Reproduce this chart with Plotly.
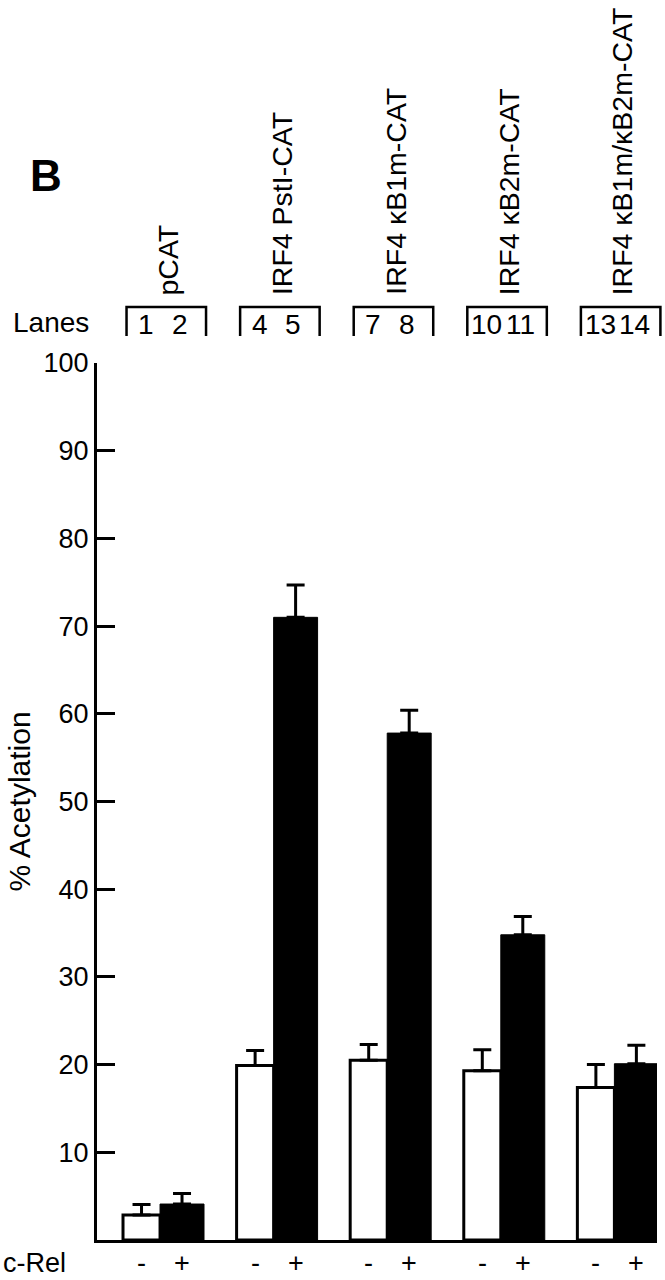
import plotly.graph_objects as go

# ---- data ----
groups = ["pCAT", "IRF4 PstI-CAT", "IRF4 κB1m-CAT", "IRF4 κB2m-CAT", "IRF4 κB1m/κB2m-CAT"]
lanes_minus = ["1", "4", "7", "10", "13"]
lanes_plus = ["2", "5", "8", "11", "14"]
minus_vals = [2.85, 19.9, 20.5, 19.3, 17.4]
minus_err = [1.2, 1.7, 1.8, 2.4, 2.6]
plus_vals = [4.1, 71.0, 57.8, 34.8, 20.1]
plus_err = [1.2, 3.7, 2.6, 2.1, 2.1]
y_ticks = [10, 20, 30, 40, 50, 60, 70, 80, 90, 100]

FONT = "Liberation Sans, Arial, Helvetica, sans-serif"
FS = 27

W, H = 665, 1280
ML, MR, MT, MB = 97, 8, 363, 40
PW = W - ML - MR
PH = H - MT - MB

xpos = list(range(len(groups)))
XMIN, XMAX = -0.555, 4.375
WW, BW = 0.326, 0.387  # white / black bar widths (x units)

def px_x(xd):
    return (xd - XMIN) / (XMAX - XMIN)

def py(pix):
    # pixel y from top -> paper coordinate
    return (H - MB - pix) / PH

fig = go.Figure()
fig.add_trace(go.Bar(
    x=xpos, y=minus_vals, width=[WW] * 5, offset=[-WW] * 5,
    marker=dict(color="white", line=dict(color="black", width=3)),
    error_y=dict(type="data", array=minus_err, arrayminus=[0] * 5, symmetric=False,
                 color="black", thickness=3, width=9),
    showlegend=False, hoverinfo="skip"))
fig.add_trace(go.Bar(
    x=xpos, y=plus_vals, width=[BW] * 5, offset=[0] * 5,
    marker=dict(color="black", line=dict(color="black", width=1)),
    error_y=dict(type="data", array=plus_err, arrayminus=[0] * 5, symmetric=False,
                 color="black", thickness=3, width=9),
    showlegend=False, hoverinfo="skip"))

fig.update_layout(
    width=W, height=H, margin=dict(l=ML, r=MR, t=MT, b=MB, pad=0, autoexpand=False),
    paper_bgcolor="white", plot_bgcolor="white", barmode="overlay",
    font=dict(family=FONT, size=FS, color="black"),
    xaxis=dict(range=[XMIN, XMAX], showline=True, linewidth=3, linecolor="black",
               showgrid=False, zeroline=False, showticklabels=False,
               ticks="", automargin=False),
    yaxis=dict(range=[0, 100], showline=True, linewidth=3, linecolor="black",
               showgrid=False, zeroline=False, tickvals=y_ticks, ticks="inside",
               ticklen=18, tickwidth=3, tickcolor="black", tickfont=dict(size=FS),
               ticklabelstandoff=0, automargin=False),
)

ann = []
# y title
ann.append(dict(text="% Acetylation", x=-(ML - 19) / PW, y=0.5, xref="paper", yref="paper",
                textangle=-90, showarrow=False, xanchor="center", yanchor="middle",
                font=dict(size=30)))
# panel letter
ann.append(dict(text="<b>B</b>", x=-(ML - 46) / PW, y=py(175), xref="paper", yref="paper",
                showarrow=False, xanchor="center", yanchor="middle", font=dict(size=44)))
# Lanes
ann.append(dict(text="Lanes", x=-(ML - 11) / PW, y=py(322), xref="paper", yref="paper",
                showarrow=False, xanchor="left", yanchor="middle", font=dict(size=28)))
# c-Rel
ann.append(dict(text="c-Rel", x=-(ML - 1) / PW, y=py(1263), xref="paper", yref="paper",
                showarrow=False, xanchor="left", yanchor="middle", font=dict(size=27)))

shapes = []
for x, g, lm, lp in zip(xpos, groups, lanes_minus, lanes_plus):
    # group label (rotated)
    ann.append(dict(text=g, x=px_x(x + 0.07), y=py(297), xref="paper", yref="paper",
                    textangle=-90, showarrow=False, xanchor="center", yanchor="bottom",
                    font=dict(size=28.5)))
    # bracket
    x0 = px_x(x - 0.295)
    x1 = px_x(x + 0.405)
    yt, yb = py(307), py(336)
    shapes.append(dict(type="path", xref="paper", yref="paper",
                       path=f"M {x0},{yb} L {x0},{yt} L {x1},{yt} L {x1},{yb}",
                       line=dict(color="black", width=2.5)))
    # lane numbers
    ann.append(dict(text=lm, x=px_x(x - WW / 2 + 0.04), y=py(325), xref="paper", yref="paper",
                    showarrow=False, xanchor="center", yanchor="middle", font=dict(size=28)))
    ann.append(dict(text=lp, x=px_x(x + BW / 2 - 0.02), y=py(325), xref="paper", yref="paper",
                    showarrow=False, xanchor="center", yanchor="middle", font=dict(size=28)))
    # c-Rel -/+ labels under bars
    ann.append(dict(text="-", x=x - WW / 2, y=py(1263), xref="x", yref="paper",
                    showarrow=False, xanchor="center", yanchor="middle", font=dict(size=27)))
    ann.append(dict(text="+", x=x + BW / 2, y=py(1263), xref="x", yref="paper",
                    showarrow=False, xanchor="center", yanchor="middle", font=dict(size=27)))

fig.update_layout(annotations=ann, shapes=shapes)
fig.write_html("out.html", config={"displayModeBar": False},
               post_script="document.body.style.margin='0px';document.documentElement.style.overflow='hidden';")
